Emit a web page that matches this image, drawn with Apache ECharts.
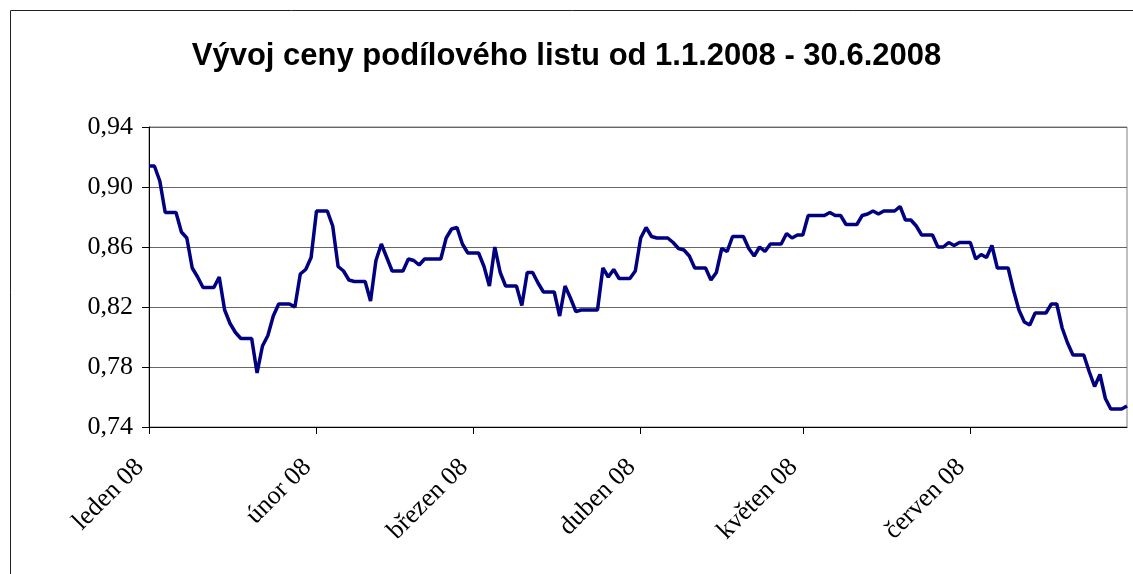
<!DOCTYPE html>
<html>
<head>
<meta charset="utf-8">
<title>Vývoj ceny podílového listu</title>
<script src="https://cdn.jsdelivr.net/npm/echarts@6/dist/echarts.min.js"></script>
<style>
  html, body { margin: 0; padding: 0; background: #fff; }
  #chart { width: 1133px; height: 574px; }
</style>
</head>
<body>
<div id="chart"></div>
<script>
// month labels (category axis shows them on the 1st of each month)
var monthNames = ['leden 08', 'únor 08', 'březen 08', 'duben 08', 'květen 08', 'červen 08'];
var monthDays = [31, 29, 31, 30, 31, 30];

// daily price, 1.1.2008 - 30.6.2008 (weekends keep friday's value)
var janPrice = [0.914, 0.914, 0.904, 0.883, 0.883, 0.883, 0.870, 0.866, 0.846, 0.840,
  0.833, 0.833, 0.833, 0.840, 0.818, 0.809, 0.803, 0.799, 0.799, 0.799,
  0.776, 0.794, 0.801, 0.814, 0.822, 0.822, 0.822, 0.820, 0.842, 0.845, 0.853];
var febPrice = [0.884, 0.884, 0.884, 0.874, 0.847, 0.844, 0.838, 0.837, 0.837, 0.837,
  0.824, 0.851, 0.862, 0.853, 0.844, 0.844, 0.844, 0.852, 0.851, 0.848,
  0.852, 0.852, 0.852, 0.852, 0.866, 0.872, 0.873, 0.862, 0.856];
var marPrice = [0.856, 0.856, 0.847, 0.834, 0.860, 0.843, 0.834, 0.834, 0.834, 0.821,
  0.843, 0.843, 0.836, 0.830, 0.830, 0.830, 0.814, 0.834, 0.826, 0.817,
  0.818, 0.818, 0.818, 0.818, 0.846, 0.840, 0.845, 0.839, 0.839, 0.839, 0.844];
var aprPrice = [0.866, 0.873, 0.867, 0.866, 0.866, 0.866, 0.863, 0.859, 0.858, 0.854,
  0.846, 0.846, 0.846, 0.838, 0.843, 0.859, 0.857, 0.867, 0.867, 0.867,
  0.859, 0.854, 0.860, 0.857, 0.862, 0.862, 0.862, 0.869, 0.866, 0.868];
var mayPrice = [0.868, 0.881, 0.881, 0.881, 0.881, 0.883, 0.881, 0.881, 0.875, 0.875,
  0.875, 0.881, 0.882, 0.884, 0.882, 0.884, 0.884, 0.884, 0.887, 0.878,
  0.878, 0.874, 0.868, 0.868, 0.868, 0.860, 0.860, 0.863, 0.861, 0.863, 0.863];
var junPrice = [0.863, 0.852, 0.855, 0.853, 0.861, 0.846, 0.846, 0.846, 0.831, 0.818,
  0.810, 0.808, 0.816, 0.816, 0.816, 0.822, 0.822, 0.806, 0.796, 0.788,
  0.788, 0.788, 0.777, 0.767, 0.775, 0.759, 0.752, 0.752, 0.752, 0.754];

var price = [].concat(janPrice, febPrice, marPrice, aprPrice, mayPrice, junPrice);

// categories: one per calendar day
var days = [];
for (var m = 0; m < monthDays.length; m++) {
  for (var d = 1; d <= monthDays[m]; d++) {
    days.push('2008-' + (m + 1 < 10 ? '0' : '') + (m + 1) + '-' + (d < 10 ? '0' : '') + d);
  }
}

function isMonthStart(index, value) {
  return value.slice(8) === '01';
}

var chart = echarts.init(document.getElementById('chart'), null, { renderer: 'canvas' });

var option = {
  animation: false,
  backgroundColor: '#fff',
  title: {
    text: 'Vývoj ceny podílového listu od 1.1.2008 - 30.6.2008',
    left: 'center',
    top: 36,
    textStyle: {
      fontFamily: 'Liberation Sans, Arial, sans-serif',
      fontWeight: 'bold',
      fontSize: 31,
      color: '#000'
    }
  },
  // outer chart frame
  graphic: [{
    type: 'rect',
    shape: { x: 10.5, y: 10.5, width: 1200, height: 700 },
    style: { fill: null, stroke: '#222', lineWidth: 1 },
    silent: true
  }],
  grid: {
    left: 149,
    right: 6,
    top: 127,
    bottom: 147,
    show: true,
    borderColor: '#808080',
    borderWidth: 1
  },
  xAxis: {
    type: 'category',
    data: days,
    boundaryGap: false,
    axisLine: { lineStyle: { color: '#000', width: 1 } },
    axisTick: { show: true, interval: isMonthStart, length: 7, lineStyle: { color: '#000' } },
    axisLabel: {
      interval: isMonthStart,
      rotate: 45,
      margin: 27,
      padding: [0, 13, 0, 0],
      fontFamily: 'Liberation Serif, Times New Roman, serif',
      fontSize: 26,
      color: '#000',
      formatter: function (value) {
        return monthNames[parseInt(value.slice(5, 7), 10) - 1];
      }
    },
    splitLine: { show: false }
  },
  yAxis: {
    type: 'value',
    min: 0.74,
    max: 0.94,
    interval: 0.04,
    axisLine: { show: true, lineStyle: { color: '#000', width: 1 } },
    axisTick: { show: true, length: 7, lineStyle: { color: '#000' } },
    axisLabel: {
      margin: 16,
      fontFamily: 'Liberation Serif, Times New Roman, serif',
      fontSize: 26,
      color: '#000',
      formatter: function (v) {
        return v.toFixed(2).replace('.', ',');
      }
    },
    splitLine: { show: true, lineStyle: { color: '#666', width: 1 } }
  },
  series: [{
    type: 'line',
    data: price,
    symbol: 'none',
    lineStyle: { color: '#000080', width: 3.5 },
    itemStyle: { color: '#000080' }
  }]
};

chart.setOption(option);
</script>
</body>
</html>
